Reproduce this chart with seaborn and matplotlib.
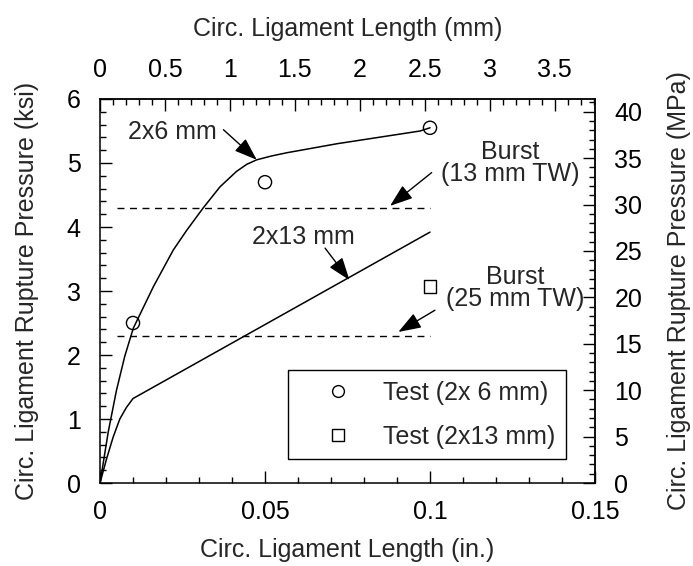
import matplotlib
matplotlib.use("Agg")
import matplotlib.pyplot as plt
import seaborn as sns
import pandas as pd
from matplotlib.ticker import MultipleLocator
from matplotlib.lines import Line2D

# --- data (inches / ksi) ---
curve_2x6_x = [0.0, 0.0025, 0.005, 0.0075, 0.0101, 0.0162, 0.0222, 0.0263, 0.0313,
               0.0364, 0.0414, 0.0445, 0.0475, 0.052, 0.0566, 0.0717, 0.097, 0.1]
curve_2x6_y = [0.0, 0.80, 1.45, 1.98, 2.42, 3.07, 3.64, 3.95, 4.30,
               4.63, 4.87, 4.98, 5.05, 5.11, 5.16, 5.30, 5.50, 5.55]
curve_2x13_x = [0.0, 0.002, 0.004, 0.006, 0.008, 0.010, 0.100]
curve_2x13_y = [0.0, 0.38, 0.72, 1.00, 1.18, 1.32, 3.92]
test_2x6_x = [0.01, 0.05, 0.10]
test_2x6_y = [2.50, 4.70, 5.55]
test_2x13_x = [0.10]
test_2x13_y = [3.07]
burst_levels = [4.3, 2.3]
burst_x = [0.005, 0.1]
x_ticks = [0, 0.05, 0.1, 0.15]
x_ticklabels = ["0", "0.05", "0.1", "0.15"]
top_ticks = [0, 0.5, 1, 1.5, 2, 2.5, 3, 3.5]
top_ticklabels = ["0", "0.5", "1", "1.5", "2", "2.5", "3", "3.5"]

KSI2MPA = 6.894757
IN2MM = 25.4
FS = 18

sns.set_theme(style="ticks")
plt.rcParams["font.family"] = ["Liberation Sans", "DejaVu Sans"]
plt.rcParams["font.size"] = FS

fig = plt.figure(figsize=(6.93, 5.66), dpi=100)
ax = fig.add_axes([0.1443, 0.1466, 0.8586 - 0.1443, 0.8251 - 0.1466])

df6 = pd.DataFrame({"x": curve_2x6_x, "y": curve_2x6_y})
df13 = pd.DataFrame({"x": curve_2x13_x, "y": curve_2x13_y})
sns.lineplot(data=df6, x="x", y="y", ax=ax, color="black", lw=1.1, sort=False, estimator=None)
sns.lineplot(data=df13, x="x", y="y", ax=ax, color="black", lw=1.1, sort=False, estimator=None)

for lvl in burst_levels:
    dfb = pd.DataFrame({"x": burst_x, "y": [lvl, lvl]})
    sns.lineplot(data=dfb, x="x", y="y", ax=ax, color="black", lw=1.0,
                 linestyle=(0, (5, 4)), estimator=None)

dft6 = pd.DataFrame({"x": test_2x6_x, "y": test_2x6_y})
dft13 = pd.DataFrame({"x": test_2x13_x, "y": test_2x13_y})
sns.scatterplot(data=dft6, x="x", y="y", ax=ax, marker="o", s=90,
                facecolor="none", edgecolor="black", linewidth=1.0, zorder=5)
sns.scatterplot(data=dft13, x="x", y="y", ax=ax, marker="s", s=80,
                facecolor="none", edgecolor="black", linewidth=1.0, zorder=5)

ax.set_xlim(0, 0.15)
ax.set_ylim(0, 6)
ax.set_xticks(x_ticks)
ax.set_xticklabels(x_ticklabels)
ax.xaxis.set_minor_locator(MultipleLocator(0.01))
ax.yaxis.set_major_locator(MultipleLocator(1))
ax.yaxis.set_minor_locator(MultipleLocator(0.2))
ax.set_xlabel("Circ. Ligament Length (in.)", fontsize=FS, labelpad=10)
ax.set_ylabel("Circ. Ligament Rupture Pressure (ksi)", fontsize=FS, labelpad=20)
ax.tick_params(which="both", direction="in", colors="black", labelsize=FS, width=1)
ax.tick_params(axis="x", which="major", length=8.5, pad=12)
ax.tick_params(axis="y", which="major", length=8.5, pad=14)
ax.tick_params(which="minor", length=4.3)
for sp in ax.spines.values():
    sp.set_visible(True)
    sp.set_color("black")
    sp.set_linewidth(1.1)

top = ax.secondary_xaxis("top", functions=(lambda v: v * IN2MM, lambda v: v / IN2MM))
top.set_xticks(top_ticks)
top.set_xticklabels(top_ticklabels)
top.xaxis.set_minor_locator(MultipleLocator(0.1))
top.tick_params(which="both", direction="in", colors="black", labelsize=FS, width=1)
top.tick_params(which="major", length=8.5, pad=12)
top.tick_params(which="minor", length=4.3)
top.set_xlabel("Circ. Ligament Length (mm)", fontsize=FS, labelpad=16)
top.spines["top"].set_linewidth(1.1)

right = ax.secondary_yaxis("right", functions=(lambda v: v * KSI2MPA, lambda v: v / KSI2MPA))
right.yaxis.set_major_locator(MultipleLocator(5))
right.yaxis.set_minor_locator(MultipleLocator(1))
right.tick_params(which="both", direction="in", colors="black", labelsize=FS, width=1)
right.tick_params(which="major", length=8.5, pad=14)
right.tick_params(which="minor", length=4.3)
right.set_ylabel("Circ. Ligament Rupture Pressure (MPa)", fontsize=FS, labelpad=18)
right.spines["right"].set_linewidth(1.1)

arrowprops = dict(arrowstyle="-|>,head_length=0.7,head_width=0.25", color="black", lw=1.0,
                  shrinkA=0, shrinkB=0, mutation_scale=20)
ax.annotate("2x6 mm", xy=(0.0085, 5.49), fontsize=FS, ha="left", va="center")
ax.annotate("", xy=(0.0475, 5.05), xytext=(0.0374, 5.52), arrowprops=arrowprops)
ax.annotate("2x13 mm", xy=(0.0616, 3.85), fontsize=FS, ha="center", va="center")
ax.annotate("", xy=(0.0756, 3.17), xytext=(0.0682, 3.67), arrowprops=arrowprops)
ax.annotate("Burst\n(13 mm TW)", xy=(0.1242, 5.005), fontsize=FS, ha="center", va="center",
            linespacing=0.9)
ax.annotate("", xy=(0.0879, 4.33), xytext=(0.1005, 4.85), arrowprops=arrowprops)
ax.annotate("Burst\n(25 mm TW)", xy=(0.1258, 3.04), fontsize=FS, ha="center", va="center",
            linespacing=0.9)
ax.annotate("", xy=(0.0904, 2.36), xytext=(0.1015, 2.70), arrowprops=arrowprops)

handles = [
    Line2D([], [], marker="o", linestyle="none", markerfacecolor="none",
           markeredgecolor="black", markersize=8.5, label="Test (2x 6 mm)"),
    Line2D([], [], marker="s", linestyle="none", markerfacecolor="none",
           markeredgecolor="black", markersize=8, label="Test (2x13 mm)"),
]
leg = ax.legend(handles=handles, loc="lower right", bbox_to_anchor=(0.941, 0.0625),
                fontsize=FS, frameon=True, fancybox=False, edgecolor="black",
                framealpha=1, handletextpad=0.2, labelspacing=0.8, borderpad=0.42,
                borderaxespad=0, handlelength=3.2)
leg.get_frame().set_linewidth(1.0)

fig.savefig("out.png", dpi=100)
